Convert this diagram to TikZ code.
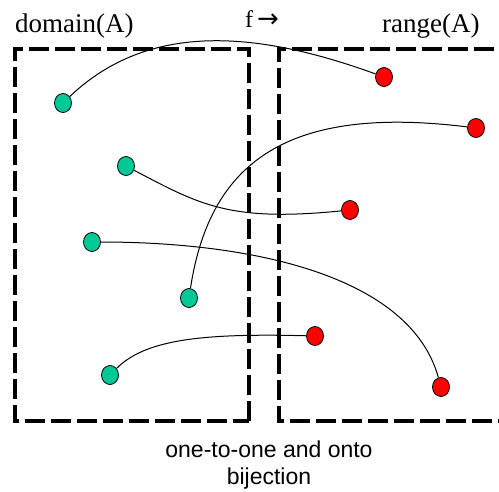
\documentclass[tikz,border=0pt]{standalone}
\usepackage{fontspec}
\setmainfont{Liberation Serif}
\newfontfamily\arialf{Liberation Sans}
\newfontfamily\dejavuf{DejaVu Sans}
\usetikzlibrary{shapes.geometric}
\definecolor{dotgreen}{RGB}{0,200,150}
\definecolor{dotred}{RGB}{255,0,0}
\tikzset{
  gdot/.style={ellipse,draw=black,line width=0.8pt,fill=dotgreen,minimum width=17pt,minimum height=19pt,inner sep=0pt},
  rdot/.style={ellipse,draw=black,line width=0.8pt,fill=dotred,minimum width=17pt,minimum height=19pt,inner sep=0pt},
  setbox/.style={line width=3.5pt,dash pattern=on 20pt off 6pt},
  link/.style={line width=1pt,black},
  lbl/.style={inner sep=0pt,font=\fontsize{27}{32}\selectfont}
}
\begin{document}
\begin{tikzpicture}[x=1pt,y=-1pt]
\useasboundingbox (0,0) rectangle (499,491);
\begin{scope}
\clip (0,0) rectangle (499,491);
% left box
\draw[setbox] (249,421) -- (249,49) -- (15,49) -- (15,421) -- cycle;
% right box (open at right)
\draw[setbox] (520,49) -- (279,49) -- (279,421) -- (520,421);
\end{scope}
% dots
\node[gdot] (g1) at (63,103) {};
\node[gdot] (g2) at (126,166) {};
\node[gdot] (g3) at (92,242) {};
\node[gdot] (g4) at (189,298) {};
\node[gdot] (g5) at (110,375) {};
\node[rdot] (r1) at (384,77) {};
\node[rdot] (r2) at (476,128) {};
\node[rdot] (r3) at (350,210) {};
\node[rdot] (r4) at (315,336) {};
\node[rdot] (r5) at (441,387) {};
% links
\draw[link] (g1) .. controls (150,20) and (260,32) .. (r1);
\draw[link] (g2) .. controls (200,205) and (230,222) .. (r3);
\draw[link] (g3) .. controls (250,242) and (410,275) .. (r5);
\draw[link] (g4) .. controls (210,160) and (290,105) .. (r2);
\draw[link] (g5) .. controls (145,340) and (200,333) .. (r4);
% labels
\node[lbl,anchor=base west] (dom) at (15,32) {domain(A)};
\node[lbl,anchor=base west] (rng) at (382,32) {range(A)};
\node[inner sep=0pt,anchor=base west,font=\fontsize{24}{28}\selectfont] (fa) at (245,27) {f\,{\dejavuf\fontsize{26}{30}\selectfont →}};
\node[inner sep=0pt,anchor=base,font=\arialf\fontsize{23}{28}\selectfont] (t1) at (269,457) {one-to-one and onto};
\node[inner sep=0pt,anchor=base,font=\arialf\fontsize{23}{28}\selectfont] (t2) at (269,484) {bijection};
\end{tikzpicture}
\end{document}
